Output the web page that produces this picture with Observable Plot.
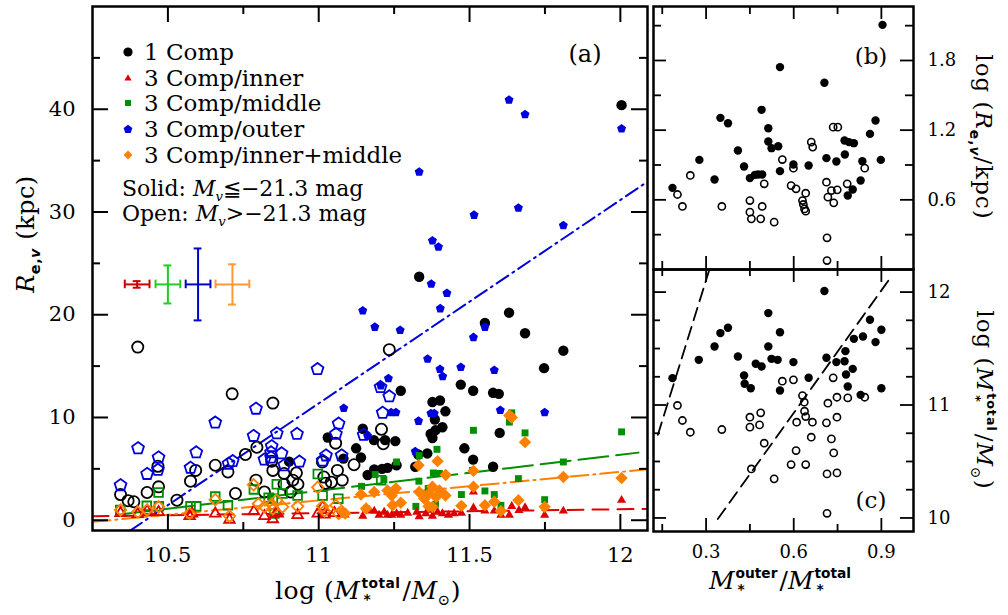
<!DOCTYPE html>
<html><head><meta charset="utf-8">
<script src="https://cdn.jsdelivr.net/npm/d3@7"></script>
<script src="https://cdn.jsdelivr.net/npm/@observablehq/plot@0.6"></script>
<style>
html,body{margin:0;padding:0;background:#fff;}
#wrap{position:relative;width:1008px;height:615px;overflow:hidden;font-family:"DejaVu Serif",serif;color:#000;background:#fff;}
.lbl{position:absolute;white-space:nowrap;line-height:1;}
.st{display:inline-flex;flex-direction:column;vertical-align:middle;line-height:1.15;font-size:0.55em;text-align:left;margin-left:1px;margin-right:2px;}
.st .up{font-family:"DejaVu Sans",sans-serif;font-weight:bold;}
.st .dn{font-family:"DejaVu Sans",sans-serif;font-weight:bold;padding-left:2px;}
sub{font-size:0.6em;line-height:0;}
.sb{font-family:"DejaVu Sans",sans-serif;font-weight:bold;}
</style></head>
<body><div id="wrap"></div>
<script>
// ---------------- data: panel (a) ----------------
const oneCompSolid = [[12.004,40.4],[11.333,23.7],[11.631,20.2],[11.551,19.2],[11.684,18.2],[11.811,16.5],[11.747,14.8],[11.471,13.2],[11.512,12.6],[11.578,12.4],[11.597,12.3],[11.272,12.6],[11.377,11.5],[11.402,11.65],[11.42,10.6],[11.385,9.8],[11.41,9.05],[11.387,8.75],[11.371,8.4],[11.377,8.0],[11.36,6.5],[11.33,6.4],[11.60,8.5],[11.483,7.0],[11.512,5.9],[11.578,5.2],[11.32,5.2],[11.228,5.1],[11.258,5.35],[11.03,8.05],[11.124,7.0],[11.146,8.9],[11.183,7.8],[11.22,7.8],[11.254,7.7],[11.14,6.1],[11.082,6.0],[11.162,4.4],[11.184,4.95],[11.21,5.0],[10.902,5.7]];
const oneCompOpen = [[10.40,16.85],[11.234,16.6],[10.713,12.3],[10.848,11.4],[10.795,7.1],[10.757,6.4],[10.657,5.35],[10.699,4.7],[10.592,4.85],[10.575,3.8],[10.467,5.25],[10.469,3.25],[10.431,2.7],[10.343,2.5],[10.368,1.9],[10.387,1.8],[10.53,1.95],[10.724,2.6],[10.844,5.75],[10.848,4.85],[10.792,3.9],[10.82,2.75],[10.885,4.55],[10.926,4.6],[10.931,3.5],[10.885,3.5],[10.907,2.75],[10.914,3.9],[11.012,5.67],[11.056,7.5],[11.062,4.85],[11.078,3.9],[11.042,3.7],[11.023,3.6],[11.017,4.2],[11.117,5.4],[11.208,8.85],[11.214,7.45]];
const innerSolid = [[11.513,2.75],[12.004,1.95],[11.473,0.7],[11.513,1.2],[11.551,0.9],[11.582,0.9],[11.604,0.5],[11.632,0.5],[11.64,1.35],[11.664,0.97],[11.684,1.23],[11.749,0.5],[11.811,0.9],[11.146,0.4],[11.168,0.97],[11.184,0.9],[11.2,0.5],[11.217,0.8],[11.228,0.5],[11.242,0.5],[11.258,0.65],[11.272,0.5],[11.295,0.7],[11.325,0.8],[11.333,0.35],[11.355,0.65],[11.377,0.4],[11.394,0.8],[11.41,0.65],[11.43,0.5],[11.449,0.65],[11.157,1.2]];
const innerOpen = [[10.343,0.7],[10.40,0.6],[10.431,0.9],[10.469,0.8],[10.572,0.4],[10.58,0.65],[10.657,0.65],[10.704,0.05],[10.785,0.87],[10.82,0.4],[10.848,0.1],[10.864,0.65],[10.861,0.8],[10.93,0.5],[10.997,0.65],[11.013,1.3],[11.019,0.55],[11.052,0.7],[11.08,0.65]];
const middleSolid = [[11.64,10.45],[11.632,9.55],[11.513,8.75],[11.684,8.5],[12.004,8.6],[11.811,5.67],[11.662,4.05],[11.51,4.85],[11.473,2.5],[11.551,2.85],[11.582,2.5],[11.749,2.0],[11.604,1.45],[11.392,6.9],[11.333,6.3],[11.258,5.67],[11.38,4.6],[11.40,4.55],[11.187,4.45],[11.142,3.3],[11.363,3.1],[11.322,1.35],[11.332,3.8],[11.387,1.55],[11.216,3.95],[10.841,2.3]];
const middleOpen = [[10.342,1.0],[10.43,1.4],[10.469,2.7],[10.47,1.35],[10.575,1.35],[10.594,1.35],[10.657,2.3],[10.699,1.45],[10.785,3.0],[10.861,3.5],[10.834,2.2],[10.848,2.1],[10.88,2.6],[10.93,2.4],[10.997,4.5],[11.013,2.4],[11.065,2.1],[11.207,3.9],[10.853,0.65]];
const outerSolid = [[11.631,40.9],[11.684,39.5],[12.004,38.1],[11.333,33.9],[11.662,30.4],[11.515,29.7],[11.811,28.7],[11.377,27.2],[11.397,26.6],[11.373,23.0],[11.425,22.1],[11.403,20.6],[11.146,20.4],[11.186,18.8],[11.270,18.5],[11.513,17.8],[11.551,18.8],[11.361,15.7],[11.402,14.7],[11.411,14.0],[11.471,14.9],[11.582,14.6],[11.231,13.8],[11.206,13.1],[11.083,10.9],[11.240,10.5],[11.256,10.5],[11.372,10.4],[11.383,10.4],[11.331,9.65],[11.162,8.2],[11.320,6.7],[11.602,10.7],[11.749,10.5]];
const outerOpen = [[10.343,3.4],[10.401,7.0],[10.431,4.5],[10.469,6.1],[10.467,4.9],[10.575,5.1],[10.594,6.6],[10.657,9.5],[10.701,5.5],[10.715,5.75],[10.784,8.2],[10.792,10.85],[10.820,5.9],[10.844,7.2],[10.842,6.6],[10.842,6.1],[10.861,8.45],[10.877,6.5],[10.886,5.35],[10.928,8.4],[10.936,5.7],[10.996,14.7],[11.013,5.8],[11.024,6.3],[11.057,8.4],[11.066,9.4],[11.076,6.3],[11.149,8.3],[11.205,12.95],[11.234,12.05],[11.212,10.45]];
const inMidSolid = [[11.632,10.2],[11.64,10.0],[11.684,7.6],[11.513,4.8],[11.811,4.2],[12.004,4.1],[11.513,3.25],[11.473,1.4],[11.551,1.45],[11.582,1.8],[11.662,1.95],[11.604,0.9],[11.749,1.3],[11.394,5.75],[11.331,5.35],[11.421,4.4],[11.256,3.1],[11.228,2.9],[11.242,2.4],[11.14,2.5],[11.184,2.75],[11.333,2.75],[11.377,3.25],[11.366,2.6],[11.40,2.9],[11.35,2.1],[11.389,2.25],[11.377,1.3],[11.364,1.35],[11.157,1.15],[11.245,1.45],[11.08,0.8],[11.088,0.65],[11.272,1.7],[11.42,2.4]];
const inMidOpen = [[10.343,1.0],[10.40,0.8],[10.431,1.0],[10.469,1.3],[10.572,0.65],[10.657,2.0],[10.704,0.4],[10.784,3.45],[10.80,1.6],[10.82,1.3],[10.844,1.55],[10.86,1.95],[10.848,1.1],[10.88,1.3],[10.93,1.35],[10.997,3.2],[11.013,1.35],[11.019,0.9],[11.057,1.45],[11.066,0.65]];
// fitted relations in (a): y = intercept + slope * x
const fitNames = ["inner","middle","outer","inner+middle"];
const fitSlope = [0.39, 3.5, 19.8, 2.78];
const fitIntercept = [-3.61, -35.63, -206.43, -28.655];
const fitXStart = [10.25, 10.36, 10.375, 10.25];
const fitXEnd = [12.09, 12.06, 12.09, 12.09];
// typical error bars in (a)
const errX = [10.398, 10.50, 10.60, 10.714];
const errY = [22.95, 22.95, 22.95, 22.95];
const errDX = [0.041, 0.041, 0.041, 0.056];
const errDY = [0.32, 1.85, 3.5, 1.96];
// ---------------- data: panels (b) and (c) ----------------
const bSolid = [[0.185,0.703],[0.277,0.944],[0.329,0.775],[0.349,1.306],[0.375,1.26],[0.409,1.025],[0.430,0.887],[0.450,0.787],[0.467,0.815],[0.478,0.818],[0.492,0.818],[0.490,1.375],[0.513,1.217],[0.513,1.102],[0.524,1.045],[0.547,1.062],[0.553,0.847],[0.553,1.743],[0.599,0.904],[0.651,0.896],[0.705,1.608],[0.712,0.959],[0.746,0.930],[0.775,0.990],[0.774,1.111],[0.789,1.097],[0.806,1.088],[0.785,0.637],[0.802,0.689],[0.829,0.766],[0.835,0.933],[0.861,1.168],[0.880,1.283],[0.898,0.944],[0.904,2.107]];
const bOpen = [[0.202,0.646],[0.219,0.543],[0.246,0.810],[0.354,0.543],[0.450,0.594],[0.450,0.494],[0.455,0.436],[0.492,0.543],[0.487,0.436],[0.499,0.738],[0.533,0.408],[0.561,0.947],[0.599,0.873],[0.591,0.723],[0.608,0.695],[0.641,0.657],[0.630,0.594],[0.633,0.560],[0.637,0.522],[0.641,0.502],[0.660,1.097],[0.665,1.054],[0.712,0.752],[0.717,0.623],[0.729,0.680],[0.737,0.574],[0.735,1.226],[0.751,1.226],[0.749,0.686],[0.783,0.738],[0.843,0.873],[0.714,0.273],[0.714,0.077]];
const cSolid = [[0.185,11.238],[0.275,11.40],[0.329,11.518],[0.349,11.637],[0.375,11.684],[0.409,11.43],[0.430,11.261],[0.432,11.188],[0.453,11.149],[0.470,11.365],[0.490,11.341],[0.513,11.814],[0.513,11.518],[0.524,11.409],[0.545,11.40],[0.553,11.645],[0.553,11.128],[0.599,11.38],[0.651,11.241],[0.705,12.009],[0.712,11.418],[0.746,11.38],[0.774,11.388],[0.777,11.477],[0.779,11.27],[0.802,11.32],[0.785,11.164],[0.806,11.586],[0.837,11.607],[0.829,11.09],[0.861,11.755],[0.880,11.557],[0.900,11.666],[0.900,11.149]];
const cOpen = [[0.202,10.996],[0.219,10.863],[0.246,10.759],[0.354,10.783],[0.450,10.892],[0.450,10.804],[0.487,10.931],[0.483,10.824],[0.499,10.662],[0.455,10.434],[0.533,10.346],[0.561,11.211],[0.599,11.223],[0.630,11.084],[0.636,11.025],[0.637,10.945],[0.641,10.898],[0.610,10.848],[0.664,10.848],[0.660,10.715],[0.608,10.597],[0.591,10.473],[0.641,10.473],[0.712,10.842],[0.717,11.016],[0.735,11.241],[0.748,11.069],[0.785,11.063],[0.748,10.892],[0.729,10.70],[0.737,10.576],[0.714,10.39],[0.748,10.399],[0.843,11.069],[0.714,10.041]];
const cLineSlope = [8.3, 3.615];
const cLineIntercept = [9.616, 8.761];
const cLineXStart = [0.135, 0.34];
const cLineXEnd = [0.34, 0.932];
// ---------------- tick labels ----------------
const xMajorA = [10.5, 11, 11.5, 12], xMinorA = [10.75, 11.25, 11.75];
const yMajorA = [0, 10, 20, 30, 40], yMinorA = [5, 15, 25, 35, 45];
const xMajorBC = [0.3, 0.6, 0.9], xMinorBC = [0.15, 0.45, 0.75];
const yMajorB = [0.6, 1.2, 1.8], yMinorB = [0.3, 0.9, 1.5, 2.1];
const yMajorC = [10, 11, 12], yMinorC = [10.25, 10.5, 10.75, 11.25, 11.5, 11.75];

// ---------------- helpers ----------------
const wrap = document.getElementById("wrap");
const pentagon = {draw(ctx, size){const r=Math.sqrt(size/Math.PI)*1.15;for(let i=0;i<5;i++){const a=-Math.PI/2+i*2*Math.PI/5;const x=r*Math.cos(a),y=r*Math.sin(a);i?ctx.lineTo(x,y):ctx.moveTo(x,y);}ctx.closePath();}};
const X = d => d[0], Y = d => d[1];
function frameTicks(xMaj, xMin, yMaj, yMin, innerW, innerH, lMaj, lMin, sw) {
  const m = [], o = {stroke:"#000", strokeWidth:sw};
  for (const [v, l] of [[xMaj, lMaj], [xMin, lMin]]) {
    m.push(Plot.ruleX(v, {x: d => d, insetTop: innerH - l, ...o}));
    m.push(Plot.ruleX(v, {x: d => d, insetBottom: innerH - l, ...o}));
  }
  for (const [v, l] of [[yMaj, lMaj], [yMin, lMin]]) {
    m.push(Plot.ruleY(v, {y: d => d, insetRight: innerW - l, ...o}));
    m.push(Plot.ruleY(v, {y: d => d, insetLeft: innerW - l, ...o}));
  }
  return m;
}
function place(el, left, top){el.style.position="absolute";el.style.left=left+"px";el.style.top=top+"px";wrap.appendChild(el);}
function label(html, x, y, size, tf, extra){const d=document.createElement("div");d.className="lbl";d.innerHTML=html;d.style.left=x+"px";d.style.top=y+"px";d.style.fontSize=size+"px";d.style.transform=tf||"translate(-50%,-50%)";if(extra)Object.assign(d.style,extra);wrap.appendChild(d);return d;}
const stack = (up) => `<span class="st"><span class="up">${up}</span><span class="dn">*</span></span>`;
const styleBase = {background:"transparent", overflow:"visible", color:"#000", fontFamily:"DejaVu Serif"};

// ---------------- panel (a) ----------------
const colRed="#dd0000", colGreen="#008f00", colBlue="#0000dd", colOrange="#ff8000";
const fitColor=[colRed,colGreen,colBlue,colOrange];
const fitDash=["16,9","30,8","14,5,2,5","18,5,2,5"];
const fitMarks = fitNames.map((n,i)=>Plot.line([fitXStart[i],fitXEnd[i]].map(x=>({x, y: fitIntercept[i]+fitSlope[i]*x})),{x:"x",y:"y",stroke:fitColor[i],strokeWidth:2,strokeDasharray:fitDash[i],clip:true}));
const errColor=["#cc0000","#22cc22","#0000cc","#ff9933"];
const errData = errX.map((x,i)=>({x, y:errY[i], dx:errDX[i], dy:errDY[i], c:errColor[i]}));
const errMarks = [
  Plot.ruleY(errData,{y:"y",x1:d=>d.x-d.dx,x2:d=>d.x+d.dx,stroke:"c",strokeWidth:2}),
  Plot.ruleX(errData,{x:"x",y1:d=>d.y-d.dy,y2:d=>d.y+d.dy,stroke:"c",strokeWidth:2}),
  Plot.ruleX(errData,{x:d=>d.x-d.dx,y1:d=>d.y-0.42,y2:d=>d.y+0.42,stroke:"c",strokeWidth:2}),
  Plot.ruleX(errData,{x:d=>d.x+d.dx,y1:d=>d.y-0.42,y2:d=>d.y+0.42,stroke:"c",strokeWidth:2}),
  Plot.ruleY(errData,{y:d=>d.y-d.dy,x1:d=>d.x-0.013,x2:d=>d.x+0.013,stroke:"c",strokeWidth:2}),
  Plot.ruleY(errData,{y:d=>d.y+d.dy,x1:d=>d.x-0.013,x2:d=>d.x+0.013,stroke:"c",strokeWidth:2})
];
const pA = Plot.plot({
  width:660, height:615, marginLeft:92, marginRight:13, marginTop:6, marginBottom:85,
  x:{domain:[10.25,12.09]}, y:{domain:[-1,50]},
  style:{...styleBase, fontSize:"21px"},
  marks:[
    Plot.axisX(xMajorA,{anchor:"bottom",tickSize:0,tickPadding:17,tickFormat:d=>String(d),label:null}),
    Plot.axisY(yMajorA,{anchor:"left",tickSize:0,tickPadding:17,tickFormat:d=>String(d),label:null}),
    ...fitMarks,
    ...errMarks,
    Plot.dot(oneCompOpen,{x:X,y:Y,r:5.6,stroke:"#000",strokeWidth:1.8,fill:"none"}),
    Plot.dot(oneCompSolid,{x:X,y:Y,r:5.2,fill:"#000"}),
    Plot.dot(outerOpen,{x:X,y:Y,r:5.4,symbol:pentagon,stroke:colBlue,strokeWidth:1.8,fill:"none"}),
    Plot.dot(outerSolid,{x:X,y:Y,r:4.1,symbol:pentagon,fill:colBlue}),
    Plot.dot(middleOpen,{x:X,y:Y,r:4.9,symbol:"square",stroke:colGreen,strokeWidth:1.8,fill:"none"}),
    Plot.dot(middleSolid,{x:X,y:Y,r:3.9,symbol:"square",fill:colGreen}),
    Plot.dot(innerOpen,{x:X,y:Y,r:3.9,symbol:"triangle",stroke:colRed,strokeWidth:1.8,fill:"none"}),
    Plot.dot(innerSolid,{x:X,y:Y,r:3.4,symbol:"triangle",fill:colRed}),
    Plot.dot(inMidOpen,{x:X,y:Y,r:5.2,symbol:"diamond2",stroke:colOrange,strokeWidth:1.8,fill:"none"}),
    Plot.dot(inMidSolid,{x:X,y:Y,r:5.6,symbol:"diamond2",fill:colOrange}),
    ...frameTicks(xMajorA,xMinorA,yMajorA,yMinorA,555,524,16,8,2),
    Plot.frame({stroke:"#000",strokeWidth:2.5})
  ]
});
place(pA,0,0);

// ---------------- panel (b) ----------------
const pB = Plot.plot({
  width:368, height:280, marginLeft:13, marginRight:95, marginTop:6, marginBottom:11,
  x:{domain:[0.12,1.01], axis:null}, y:{domain:[0,2.265]},
  style:{...styleBase, fontSize:"18px"},
  marks:[
    Plot.axisY(yMajorB,{anchor:"right",tickSize:0,tickPadding:14,tickFormat:d=>d.toFixed(1),label:null}),
    Plot.dot(bOpen,{x:X,y:Y,r:3.6,stroke:"#000",strokeWidth:1.6,fill:"none"}),
    Plot.dot(bSolid,{x:X,y:Y,r:4.2,fill:"#000"}),
    ...frameTicks(xMajorBC,xMinorBC,yMajorB,yMinorB,260,263,13,8,1.8),
    Plot.frame({stroke:"#000",strokeWidth:2.5})
  ]
});
place(pB,640,0);

// ---------------- panel (c) ----------------
const cLineMarks = cLineSlope.map((s,i)=>Plot.line([cLineXStart[i],cLineXEnd[i]].map(x=>({x,y:cLineIntercept[i]+s*x})),{x:"x",y:"y",stroke:"#000",strokeWidth:1.8,strokeDasharray:"13,7",clip:true}));
const pC = Plot.plot({
  width:368, height:355, marginLeft:13, marginRight:95, marginTop:9, marginBottom:84,
  x:{domain:[0.12,1.01]}, y:{domain:[9.88,12.2]},
  style:{...styleBase, fontSize:"18px"},
  marks:[
    Plot.axisX(xMajorBC,{anchor:"bottom",tickSize:0,tickPadding:14,tickFormat:d=>d.toFixed(1),label:null}),
    Plot.axisY(yMajorC,{anchor:"right",tickSize:0,tickPadding:14,tickFormat:d=>String(d),label:null}),
    ...cLineMarks,
    Plot.dot(cOpen,{x:X,y:Y,r:3.6,stroke:"#000",strokeWidth:1.6,fill:"none"}),
    Plot.dot(cSolid,{x:X,y:Y,r:4.2,fill:"#000"}),
    ...frameTicks(xMajorBC,xMinorBC,yMajorC,yMinorC,260,262,13,7,1.8),
    Plot.frame({stroke:"#000",strokeWidth:2.5})
  ]
});
place(pC,640,260);

// ---------------- text: titles, legend ----------------
label(`log (<i>M</i>${stack("total")}/<i>M</i><sub>⊙</sub>)`, 368, 592, 25, null, {letterSpacing:"0.5px"});
label(`<i>R</i><sub class="sb">e,<i>v</i></sub> (kpc)`, 26, 234, 24, "translate(-50%,-50%) rotate(-90deg)", {letterSpacing:"0.5px"});
label(`(a)`, 585, 54, 24);
label(`(b)`, 871, 56, 23);
label(`(c)`, 871, 500, 23);
label(`<i>M</i>${stack("outer")}/<i>M</i>${stack("total")}`, 781, 582, 25);
label(`log (<i>R</i><sub class="sb">e,<i>v</i></sub>/kpc)`, 983, 137, 23, "translate(-50%,-50%) rotate(90deg)", {letterSpacing:"1px"});
label(`log (<i>M</i>${stack("total")}/<i>M</i><sub>⊙</sub>)`, 983, 400, 23, "translate(-50%,-50%) rotate(90deg)", {letterSpacing:"1px"});

const legendRows = [
  {t:"1 Comp", shape:"circle", c:"#000"},
  {t:"3 Comp/inner", shape:"triangle", c:colRed},
  {t:"3 Comp/middle", shape:"square", c:colGreen},
  {t:"3 Comp/outer", shape:"pentagon", c:colBlue},
  {t:"3 Comp/inner+middle", shape:"diamond", c:colOrange}
];
const legendY = [52, 77.5, 103, 129, 155];
legendRows.forEach((r,i)=>{
  let shp;
  if(r.shape==="circle") shp=`<circle cx="7" cy="7" r="4.6" fill="${r.c}"/>`;
  if(r.shape==="triangle") shp=`<path d="M7,3.2 L10.6,9.6 L3.4,9.6Z" fill="${r.c}"/>`;
  if(r.shape==="square") shp=`<rect x="4" y="4" width="6" height="6" fill="${r.c}"/>`;
  if(r.shape==="pentagon") shp=`<path d="${d3.range(5).map(k=>{const a=-Math.PI/2+k*2*Math.PI/5;return (k?"L":"M")+(7+4.6*Math.cos(a)).toFixed(2)+","+(7.4+4.6*Math.sin(a)).toFixed(2);}).join("")}Z" fill="${r.c}"/>`;
  if(r.shape==="diamond") shp=`<path d="M7,2.6 L11.4,7 L7,11.4 L2.6,7Z" fill="${r.c}"/>`;
  const s=document.createElementNS("http://www.w3.org/2000/svg","svg");
  s.setAttribute("width","14");s.setAttribute("height","14");s.innerHTML=shp;
  place(s,121,legendY[i]-7);
  label(r.t, 144, legendY[i], 23, "translate(0,-50%)");
});
label(`Solid: <i>M</i><sub><i>v</i></sub>≦−21.3 mag`, 122, 189, 22, "translate(0,-50%)");
label(`Open: <i>M</i><sub><i>v</i></sub>&gt;−21.3 mag`, 122, 214, 22, "translate(0,-50%)");
</script>
</body></html>
